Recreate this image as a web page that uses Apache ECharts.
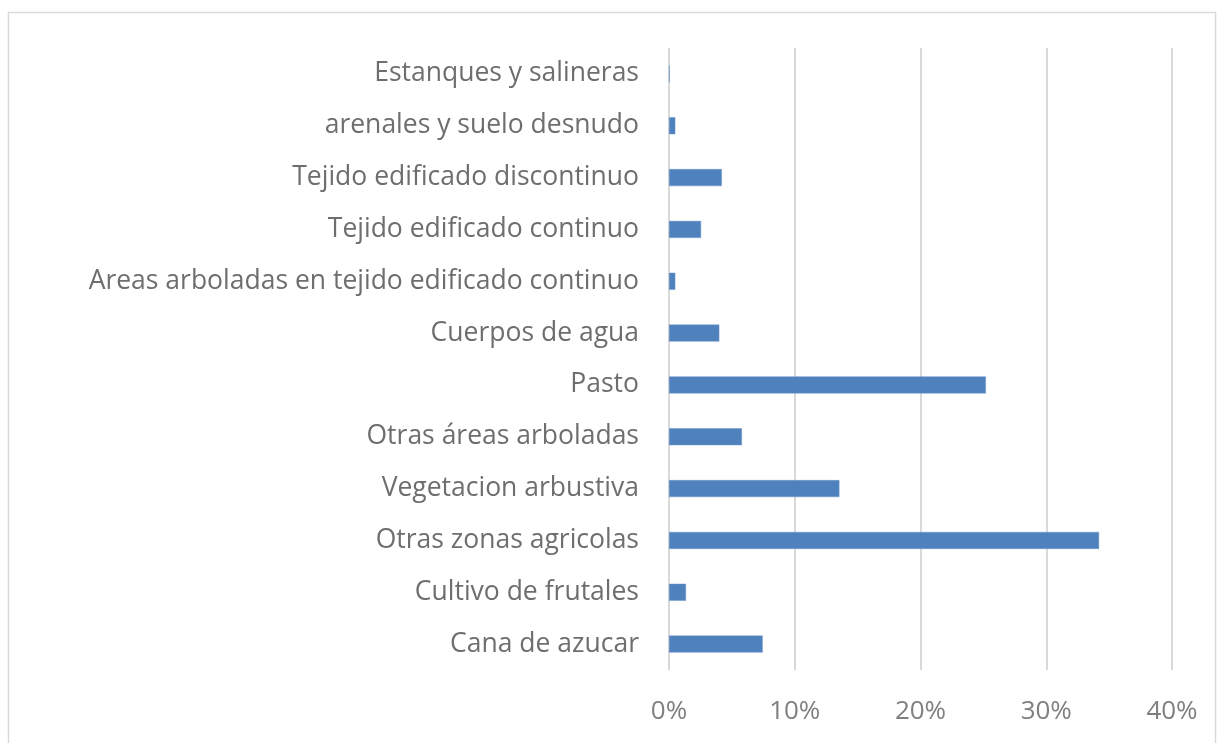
<!DOCTYPE html>
<html>
<head>
<meta charset="utf-8">
<script src="https://cdn.jsdelivr.net/npm/echarts@6/dist/echarts.min.js"></script>
<style>
  html, body { margin: 0; padding: 0; background: #fff; }
  #chart { width: 1223px; height: 743px; }
</style>
</head>
<body>
<div id="chart"></div>
<script>
// categories from bottom to top, as in the picture
const categories = [
  'Cana de azucar',
  'Cultivo de frutales',
  'Otras zonas agricolas',
  'Vegetacion arbustiva',
  'Otras áreas arboladas',
  'Pasto',
  'Cuerpos de agua',
  'Areas arboladas en tejido edificado continuo',
  'Tejido edificado continuo',
  'Tejido edificado discontinuo',
  'arenales y suelo desnudo',
  'Estanques y salineras'
]
// share of area, in percent
const shares = [7.45, 1.35, 34.2, 13.55, 5.8, 25.2, 4.0, 0.5, 2.55, 4.2, 0.5, 0.05]
const xTicks = [0, 10, 20, 30, 40]

const labelFont = '"Open Sans", sans-serif'

let myChart = echarts.init(document.getElementById('chart'))
myChart.setOption({
  animation: false,
  backgroundColor: '#fff',
  graphic: [{
    type: 'rect',
    shape: { x: 8.5, y: 12.5, width: 1207, height: 760 },
    style: { fill: 'none', stroke: '#d9d9d9', lineWidth: 1.5 },
    silent: true
  }],
  grid: { left: 669, right: 51, top: 48, bottom: 73 },
  xAxis: {
    type: 'value',
    min: xTicks[0],
    max: xTicks[xTicks.length - 1],
    interval: 10,
    axisLine: { show: false },
    axisTick: { show: false },
    splitLine: { show: true, lineStyle: { color: '#d9d9d9', width: 2 } },
    axisLabel: {
      formatter: '{value}%',
      color: '#7f7f7f',
      fontSize: 26,
      fontFamily: labelFont,
      margin: 29
    }
  },
  yAxis: {
    type: 'category',
    data: categories,
    axisLine: { show: false },
    axisTick: { show: false },
    axisLabel: {
      color: '#6e6e6e',
      fontSize: 26.5,
      fontFamily: labelFont,
      margin: 30,
      padding: [5, 0, 0, 0]
    }
  },
  series: [{
    type: 'bar',
    data: shares,
    barWidth: 17,
    itemStyle: { color: '#4f81bd', borderColor: '#6c97cc', borderWidth: 0.5 }
  }]
})
</script>
</body>
</html>
